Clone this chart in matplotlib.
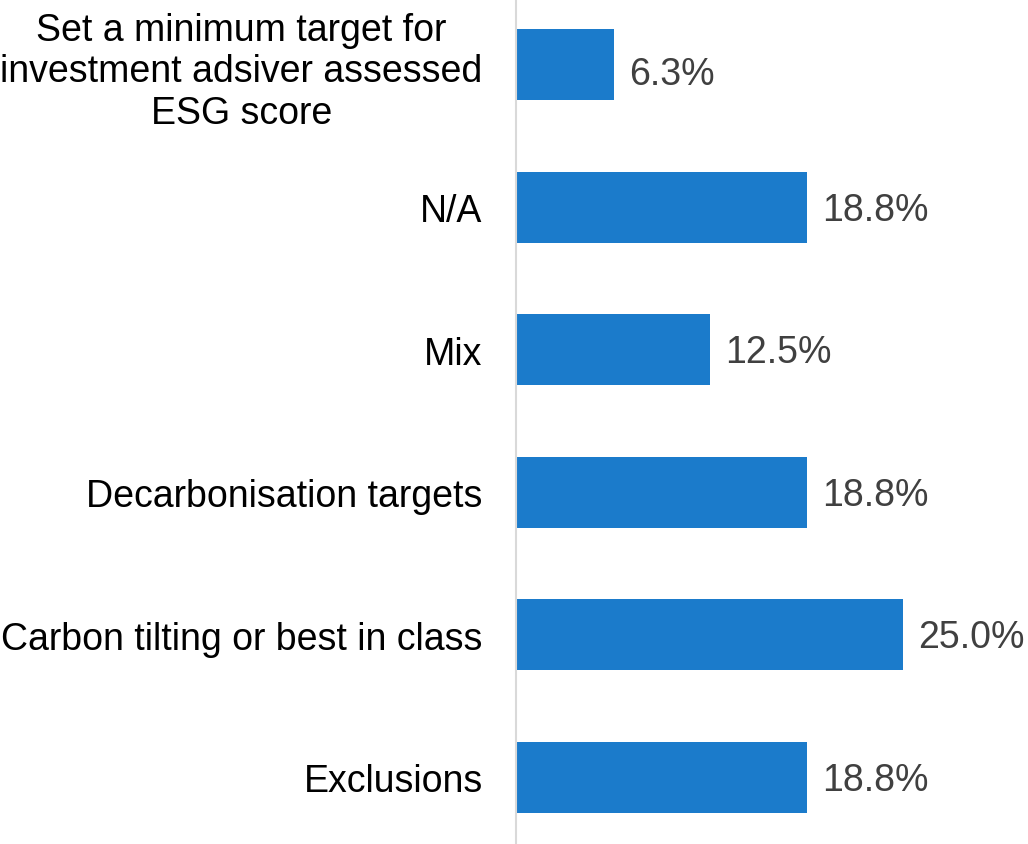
import matplotlib.pyplot as plt

plt.rcParams['font.family'] = ['Liberation Sans', 'DejaVu Sans']

categories = ["Exclusions", "Carbon tilting or best in class", "Decarbonisation targets",
              "Mix", "N/A", "Set a minimum target for\ninvestment adsiver assessed\nESG score"]
values = [18.8, 25.0, 18.8, 12.5, 18.8, 6.3]
value_labels = ["18.8%", "25.0%", "18.8%", "12.5%", "18.8%", "6.3%"]

# vertical nudge (points) of each value label, the top one sits a bit low in the original
label_dy = [-2, -2, -2, -2, -2, -7]

fig = plt.figure(figsize=(10.28, 8.45), dpi=100)
ax = fig.add_axes([0.502, 0.0, 0.498, 1.0])

pos = list(range(len(categories)))
ax.barh(pos, values, height=0.5, color="#1B7BCB")
for p, v, lab, dy in zip(pos, values, value_labels, label_dy):
    ax.annotate(lab, (v, p), xytext=(11, dy), textcoords="offset points",
                va="center", ha="left", fontsize=27, color="#404040")

ax.set_xlim(0, 33.07)
ax.set_ylim(-0.469, 5.461)
ax.set_yticks(pos)
ax.set_yticklabels(categories, fontsize=27, color="black", ha="right")
for t in ax.get_yticklabels():
    t.set_linespacing(1.2)
    t.set_multialignment("center")
ax.tick_params(axis="y", length=0, pad=24)
ax.set_xticks([])
for s in ["top", "right", "bottom"]:
    ax.spines[s].set_visible(False)
ax.spines["left"].set_color("#D9D9D9")
ax.spines["left"].set_linewidth(1.5)

fig.savefig("out.png", dpi=100)
